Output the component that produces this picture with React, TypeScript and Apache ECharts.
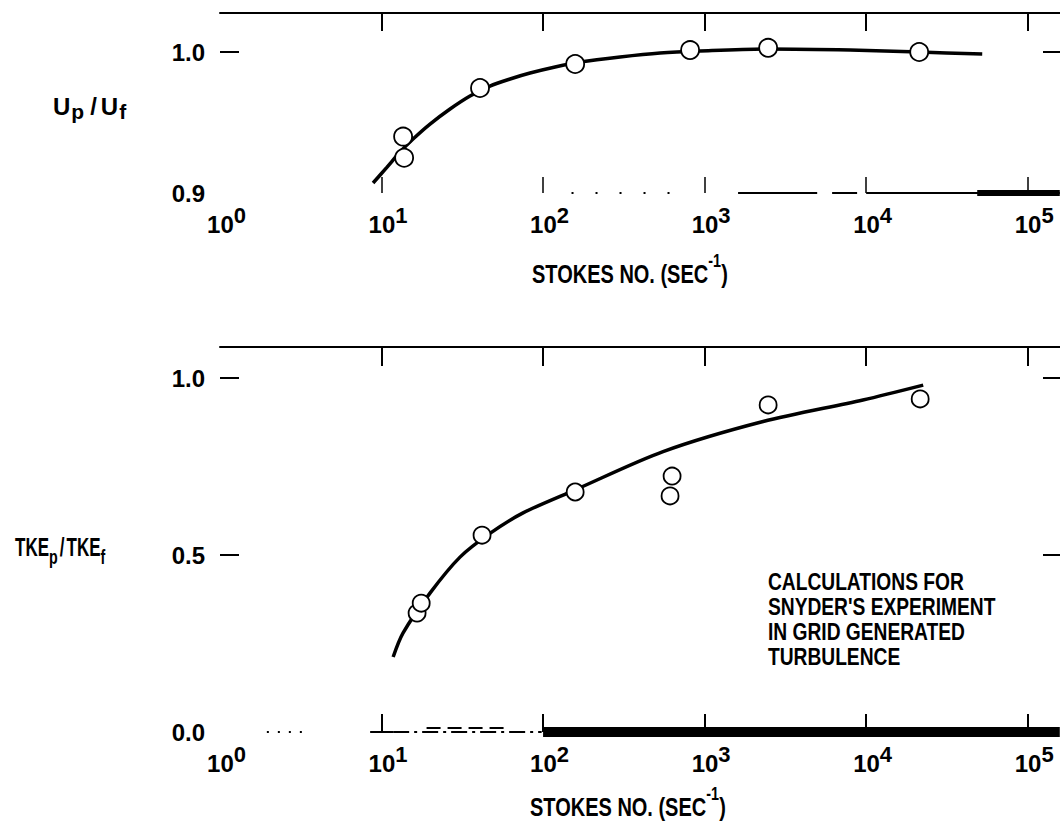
import React, { useEffect, useRef } from "react";
import * as echarts from "echarts";

// ---------- axes ----------
const X_MIN = 1;
const X_MAX = 158489; // about 10^5.2 : the frame is cropped at the right
const xLabelValues = [1, 10, 100, 1000, 10000, 100000];
const xTickValues = [10, 100, 1000, 10000, 100000];

const UP_Y_MIN = 0.9;
const UP_Y_MAX = 1.0277;
const upYLabelValues = [0.9, 1.0];
const upYTickValues = [1.0];

const TKE_Y_MIN = 0;
const TKE_Y_MAX = 1.0876;
const tkeYLabelValues = [0, 0.5, 1.0];
const tkeYTickValues = [0.5, 1.0];

// ---------- top panel : Up/Uf ----------
const upStokes = [13.6, 13.8, 40.7, 158, 813, 2473, 21300];
const upRatio = [0.94, 0.925, 0.9745, 0.9915, 1.0014, 1.003, 1.0];
const upCurveStokes = [8.86, 10.82, 13.02, 15.67, 19.96, 26.56, 35.3, 46.9, 62.5, 83.1, 118.7, 169.4, 299.8, 530, 937, 2473, 7960, 21300, 52300];
const upCurveRatio = [0.9071, 0.9184, 0.9291, 0.9383, 0.9489, 0.9596, 0.9688, 0.9759, 0.9809, 0.9851, 0.9894, 0.9929, 0.9965, 0.9993, 1.0007, 1.0021, 1.0014, 1.0, 0.9986];

// ---------- bottom panel : TKEp/TKEf ----------
const tkeStokes = [16.6, 17.6, 41.9, 158, 629, 611, 2473, 21600];
const tkeRatio = [0.336, 0.364, 0.556, 0.678, 0.723, 0.667, 0.924, 0.941];
const tkeCurveStokes = [11.8, 13.6, 20, 30.6, 46.9, 75.2, 158, 553, 2301, 9550, 22550];
const tkeCurveRatio = [0.212, 0.280, 0.393, 0.494, 0.561, 0.619, 0.684, 0.792, 0.877, 0.938, 0.98];

// ---------- texts ----------
const xAxisTitle = "{m|STOKES NO. (SEC}{s|-1}{m|)}";
const upYTitle = "{m|U}{s|p}{g|/}{m|U}{s|f}";
const tkeYTitle = "{m|TKE}{s|p}{g|/}{m|TKE}{s|f}";
const noteLines = ["CALCULATIONS FOR", "SNYDER'S EXPERIMENT", "IN GRID GENERATED", "TURBULENCE"];

const FONT = "'Liberation Sans', Arial, Helvetica, sans-serif";
const INK = "#000";

const zip = (xs: number[], ys: number[]) => xs.map((x, i) => [x, ys[i]]);

const xLabelRich = {
  sp: { width: 13, fontSize: 20, fontFamily: FONT },
  b: { fontSize: 24, fontWeight: "bold", fontFamily: FONT, color: INK, lineHeight: 32, verticalAlign: "bottom" },
  s: { fontSize: 22, fontWeight: "bold", fontFamily: FONT, color: INK, lineHeight: 22, verticalAlign: "top" },
};

function xAxes(gridIndex: number, bottomTickLen: number, bottomTickWidth: number, topTickLen: number) {
  return [
    {
      type: "log",
      gridIndex,
      position: "bottom",
      min: X_MIN,
      max: X_MAX,
      logBase: 10,
      axisLine: { show: false, onZero: false },
      axisTick: {
        show: true,
        inside: true,
        length: bottomTickLen,
        customValues: xTickValues,
        lineStyle: { color: INK, width: bottomTickWidth },
      },
      axisLabel: {
        show: true,
        margin: 11,
        customValues: xLabelValues,
        formatter: (v: number) => `{sp| }{b|10}{s|${Math.round(Math.log10(v))}}`,
        rich: xLabelRich,
      },
      splitLine: { show: false },
      minorTick: { show: false },
    },
    {
      type: "log",
      gridIndex,
      position: "top",
      min: X_MIN,
      max: X_MAX,
      logBase: 10,
      axisLine: { show: true, onZero: false, lineStyle: { color: INK, width: 2 } },
      axisTick: {
        show: true,
        inside: true,
        length: topTickLen,
        customValues: xTickValues,
        lineStyle: { color: INK, width: 2 },
      },
      axisLabel: { show: false },
      splitLine: { show: false },
    },
  ];
}

function yAxes(gridIndex: number, min: number, max: number, interval: number, labels: number[], ticks: number[]) {
  return [
    {
      type: "value",
      gridIndex,
      position: "left",
      min,
      max,
      interval,
      axisLine: { show: false, onZero: false },
      axisTick: {
        show: true,
        inside: true,
        length: 19,
        customValues: ticks,
        lineStyle: { color: INK, width: 2 },
      },
      axisLabel: {
        show: true,
        margin: 15,
        customValues: labels,
        formatter: (v: number) => v.toFixed(1),
        color: INK,
        fontSize: 24,
        fontWeight: "bold",
        fontFamily: FONT,
      },
      splitLine: { show: false },
    },
    {
      type: "value",
      gridIndex,
      position: "right",
      min,
      max,
      interval,
      axisLine: { show: false, onZero: false },
      axisTick: {
        show: true,
        inside: true,
        length: 17,
        customValues: ticks,
        lineStyle: { color: INK, width: 2 },
      },
      axisLabel: { show: false },
      splitLine: { show: false },
    },
  ];
}

const circleStyle = { color: "#fff", borderColor: INK, borderWidth: 1.8, opacity: 1 };

function seg(x1: number, x2: number, y: number, width: number, type: any) {
  return [
    { coord: [x1, y], lineStyle: { color: INK, width, type, opacity: 1 } },
    { coord: [x2, y] },
  ];
}

const titleRich = {
  m: { fontSize: 25, fontWeight: "bold", fontFamily: FONT, fill: INK, lineHeight: 25, verticalAlign: "bottom" },
  s: { fontSize: 18, fontWeight: "bold", fontFamily: FONT, fill: INK, lineHeight: 36, verticalAlign: "top" },
};

export default function App() {
  const ref = useRef<HTMLDivElement>(null);

  useEffect(() => {
    if (!ref.current) return;
    const chart = echarts.init(ref.current, null, { renderer: "svg" });

    const option: any = {
      animation: false,
      backgroundColor: "#fff",
      grid: [
        { left: 220, right: 0, top: 13, height: 180, outerBoundsMode: "none", containLabel: false },
        { left: 220, right: 0, top: 347, height: 385, outerBoundsMode: "none", containLabel: false },
      ],
      xAxis: [...xAxes(0, 16, 1.5, 18), ...xAxes(1, 18, 2, 19)],
      yAxis: [
        ...yAxes(0, UP_Y_MIN, UP_Y_MAX, 0.1, upYLabelValues, upYTickValues),
        ...yAxes(1, TKE_Y_MIN, TKE_Y_MAX, 0.5, tkeYLabelValues, tkeYTickValues),
      ],
      series: [
        {
          name: "Up/Uf curve",
          type: "line",
          xAxisIndex: 0,
          yAxisIndex: 0,
          data: zip(upCurveStokes, upCurveRatio),
          smooth: 0.3,
          showSymbol: false,
          symbol: "none",
          clip: false,
          lineStyle: { color: INK, width: 3.5 },
          z: 2,
          markLine: {
            silent: true,
            symbol: ["none", "none"],
            label: { show: false },
            emphasis: { disabled: true },
            data: [
              seg(150, 700, UP_Y_MIN, 2, [2, 22]),
              seg(1611, 4976, UP_Y_MIN, 2, "solid"),
              seg(6155, 8790, UP_Y_MIN, 2, "solid"),
              seg(10000, 158000, UP_Y_MIN, 2, "solid"),
              seg(48700, 158000, UP_Y_MIN, 6, "solid"),
            ],
          },
        },
        {
          name: "Up/Uf data",
          type: "scatter",
          xAxisIndex: 0,
          yAxisIndex: 0,
          data: zip(upStokes, upRatio),
          symbol: "circle",
          symbolSize: 18,
          itemStyle: circleStyle,
          z: 3,
        },
        {
          name: "TKE curve",
          type: "line",
          xAxisIndex: 2,
          yAxisIndex: 2,
          data: zip(tkeCurveStokes, tkeCurveRatio),
          smooth: 0.3,
          showSymbol: false,
          symbol: "none",
          clip: false,
          lineStyle: { color: INK, width: 3.5 },
          z: 2,
          markLine: {
            silent: true,
            symbol: ["none", "none"],
            label: { show: false },
            emphasis: { disabled: true },
            data: [
              seg(1.95, 3.4, 0, 2, [2, 9]),
              seg(8.5, 11.8, 0, 2, "solid"),
              seg(11.8, 98, 0, 2, [16, 5, 3, 5]),
              seg(19, 60, 0.012, 2, [14, 7]),
              seg(100, 158000, 0, 10, "solid"),
            ],
          },
        },
        {
          name: "TKE data",
          type: "scatter",
          xAxisIndex: 2,
          yAxisIndex: 2,
          data: zip(tkeStokes, tkeRatio),
          symbol: "circle",
          symbolSize: 17,
          itemStyle: circleStyle,
          z: 3,
        },
      ],
      graphic: [
        {
          type: "text",
          x: 532,
          y: 251,
          scaleX: 0.8,
          style: { text: xAxisTitle, rich: titleRich, fill: INK, align: "left", verticalAlign: "top" },
        },
        {
          type: "text",
          x: 530,
          y: 784,
          scaleX: 0.8,
          style: { text: xAxisTitle, rich: titleRich, fill: INK, align: "left", verticalAlign: "top" },
        },
        {
          type: "text",
          x: 53,
          y: 94,
          style: {
            text: upYTitle,
            fill: INK,
            align: "left",
            verticalAlign: "top",
            rich: {
              m: { fontSize: 24, fontWeight: "bold", fontFamily: FONT, fill: INK, lineHeight: 24, verticalAlign: "top" },
              g: { fontSize: 24, fontWeight: "bold", fontFamily: FONT, fill: INK, lineHeight: 24, verticalAlign: "top", padding: [0, 4, 0, 4] },
              s: { fontSize: 21, fontWeight: "bold", fontFamily: FONT, fill: INK, lineHeight: 28, verticalAlign: "bottom", padding: [0, 2, 0, 1] },
            },
          },
        },
        {
          type: "text",
          x: 15,
          y: 535,
          scaleX: 0.68,
          style: {
            text: tkeYTitle,
            fill: INK,
            align: "left",
            verticalAlign: "top",
            rich: {
              m: { fontSize: 25, fontWeight: "bold", fontFamily: FONT, fill: INK, lineHeight: 25, verticalAlign: "top" },
              g: { fontSize: 25, fontWeight: "bold", fontFamily: FONT, fill: INK, lineHeight: 25, verticalAlign: "top", padding: [0, 3, 0, 3] },
              s: { fontSize: 21, fontWeight: "bold", fontFamily: FONT, fill: INK, lineHeight: 32, verticalAlign: "bottom" },
            },
          },
        },
        {
          type: "text",
          x: 768,
          y: 569,
          scaleX: 0.8,
          style: {
            text: noteLines.join("\n"),
            fill: INK,
            font: `bold 24px ${FONT}`,
            lineHeight: 25,
            align: "left",
            verticalAlign: "top",
          },
        },
      ],
    };

    chart.setOption(option);
    return () => chart.dispose();
  }, []);

  return (
    <div
      ref={ref}
      style={{ position: "fixed", left: 0, top: 0, width: 1060, height: 822, background: "#fff" }}
    />
  );
}
